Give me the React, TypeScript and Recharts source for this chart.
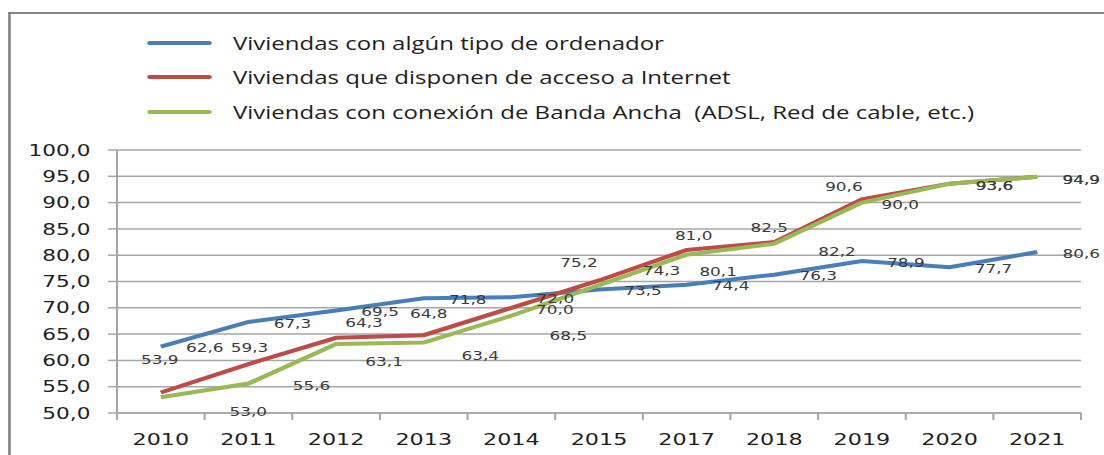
import React from 'react';
import { LineChart, Line, XAxis, YAxis, CartesianGrid, Legend, LabelList } from 'recharts';

// ---------- data ----------
const years = ['2010', '2011', '2012', '2013', '2014', '2015', '2017', '2018', '2019', '2020', '2021'];
const computerValues = [62.6, 67.3, 69.5, 71.8, 72.0, 73.5, 74.4, 76.3, 78.9, 77.7, 80.6];
const internetValues = [53.9, 59.3, 64.3, 64.8, 70.0, 75.2, 81.0, 82.5, 90.6, 93.6, 94.9];
const broadbandValues = [53.0, 55.6, 63.1, 63.4, 68.5, 74.3, 80.1, 82.2, 90.0, 93.6, 94.9];
const yTicks = [50, 55, 60, 65, 70, 75, 80, 85, 90, 95, 100];
const seriesNames = [
  'Viviendas con algún tipo de ordenador',
  'Viviendas que disponen de acceso a Internet',
  'Viviendas con conexión de Banda Ancha  (ADSL, Red de cable, etc.)',
];

// ---------- styling (label offsets in screen px relative to each point) ----------
const computerLabelOffsets = [
  [44, 1], [44, 1], [44, 1], [44, 1], [44, 1], [44, 1], [44, 1], [44, 1], [44, 1], [44, 1], [44, 1],
];
const internetLabelOffsets = [
  [-1, -33], [1, -17], [28, -15], [5, -22], [43.5, 1.5], [-20, -18], [7, -15], [-5, -15], [-18, -13.5], [45, 1.3], [44, 2.5],
];
const broadbandLabelOffsets = [
  [87.5, 14.5], [63, 1.5], [48, 17.6], [56.5, 12.5], [57, 20], [62.5, -15], [31.5, 16.3], [62.7, 7.4], [38.4, 1.4], [45, 1.3], [44, 2.5],
];

const COLORS = ['#4a7ebb', '#be4b48', '#98b954'];
const GRID = '#a6a6a6';
const SCALE = 1.3496;
const W = 818;
const H = 455;
const YW = 86.7;
const MR = 17;
const BAND = (W - YW - MR) / years.length;
const LEGEND_ROWS = [33, 67, 102];

const fmt = (v: number) => Number(v).toFixed(1).replace('.', ',');

const rows = years.map((year, i) => ({
  year,
  computer: computerValues[i],
  internet: internetValues[i],
  broadband: broadbandValues[i],
}));

const makeLabel = (offsets: number[][]) => (props: any) => {
  const vb = props.viewBox || {};
  const x = props.x ?? vb.x;
  const y = props.y ?? vb.y;
  const index = props.index;
  if (x == null || y == null || index == null || !offsets[index]) return null;
  const [dx, dy] = offsets[index];
  return (
    <text
      x={Number(x) + dx / SCALE}
      y={Number(y) + dy}
      textAnchor="middle"
      dominantBaseline="central"
      fontFamily="DejaVu Sans"
      fontSize={12.5}
      fill="#3a3a3a"
    >
      {fmt(props.value)}
    </text>
  );
};

const XTick = (props: any) => {
  const { x, y, payload, index } = props;
  const half = BAND / 2;
  return (
    <g>
      <line x1={x - half} x2={x - half} y1={y} y2={y + 7} stroke={GRID} strokeWidth={1.5} />
      {index === years.length - 1 && (
        <line x1={x + half} x2={x + half} y1={y} y2={y + 7} stroke={GRID} strokeWidth={1.5} />
      )}
      <text x={x} y={y + 32} textAnchor="middle" fontFamily="DejaVu Sans" fontSize={16.5} fill="#1e1e1e">
        {payload.value}
      </text>
    </g>
  );
};

const LegendContent = () => (
  <div style={{ position: 'relative', width: W, height: 140 }}>
    {seriesNames.map((name, i) => (
      <React.Fragment key={name}>
        <div
          style={{
            position: 'absolute',
            left: 109,
            top: LEGEND_ROWS[i] - 2,
            width: 48,
            height: 4,
            borderRadius: 2,
            background: COLORS[i],
          }}
        />
        <div
          style={{
            position: 'absolute',
            left: 172.6,
            top: LEGEND_ROWS[i] - 12,
            height: 24,
            lineHeight: '24px',
            whiteSpace: 'pre',
            fontFamily: '"Open Sans", sans-serif',
            fontSize: 17.8,
            color: '#1e1e1e',
          }}
        >
          {name}
        </div>
      </React.Fragment>
    ))}
  </div>
);

export default function App() {
  return (
    <div style={{ position: 'absolute', left: 0, top: 0, width: 1104, height: H, overflow: 'hidden', background: '#fff' }}>
      <div
        style={{
          position: 'absolute',
          left: 0,
          top: 0,
          width: W,
          height: H,
          transform: `scaleX(${SCALE})`,
          transformOrigin: '0 0',
        }}
      >
        <div
          style={{
            position: 'absolute',
            left: 6,
            top: 12,
            width: W - 6,
            height: H - 12,
            borderLeft: '2.2px solid #868686',
            borderTop: '2px solid #868686',
            boxSizing: 'border-box',
          }}
        />
        <LineChart
          width={W}
          height={H}
          data={rows}
          margin={{ top: 10, right: MR, bottom: 2, left: 0 }}
          style={{ position: 'absolute', left: 0, top: 0 }}
        >
          <CartesianGrid vertical={false} stroke={GRID} strokeWidth={1.5} />
          <XAxis
            dataKey="year"
            interval={0}
            padding={{ left: BAND / 2, right: BAND / 2 }}
            tickLine={false}
            tickSize={0}
            tickMargin={0}
            axisLine={{ stroke: GRID, strokeWidth: 1.5 }}
            tick={(p: any) => <XTick {...p} />}
            height={40}
          />
          <YAxis
            domain={[50, 100]}
            ticks={yTicks}
            interval={0}
            width={YW}
            tickSize={6.7}
            tickMargin={13}
            allowDataOverflow
            axisLine={{ stroke: GRID, strokeWidth: 1.5 }}
            tickLine={{ stroke: GRID, strokeWidth: 1.5 }}
            tick={{ fill: '#1e1e1e', fontSize: 16, fontFamily: 'DejaVu Sans' }}
            tickFormatter={fmt}
          />
          <Legend
            verticalAlign="top"
            align="left"
            content={<LegendContent />}
            wrapperStyle={{ top: 10, left: 0, width: W, height: 140 }}
          />
          <Line
            type="linear"
            dataKey="computer"
            name={seriesNames[0]}
            stroke={COLORS[0]}
            strokeWidth={4}
            dot={false}
            activeDot={false}
            isAnimationActive={false}
          >
            <LabelList dataKey="computer" content={makeLabel(computerLabelOffsets)} />
          </Line>
          <Line
            type="linear"
            dataKey="internet"
            name={seriesNames[1]}
            stroke={COLORS[1]}
            strokeWidth={4}
            dot={false}
            activeDot={false}
            isAnimationActive={false}
          >
            <LabelList dataKey="internet" content={makeLabel(internetLabelOffsets)} />
          </Line>
          <Line
            type="linear"
            dataKey="broadband"
            name={seriesNames[2]}
            stroke={COLORS[2]}
            strokeWidth={4}
            dot={false}
            activeDot={false}
            isAnimationActive={false}
          >
            <LabelList dataKey="broadband" content={makeLabel(broadbandLabelOffsets)} />
          </Line>
        </LineChart>
      </div>
    </div>
  );
}
